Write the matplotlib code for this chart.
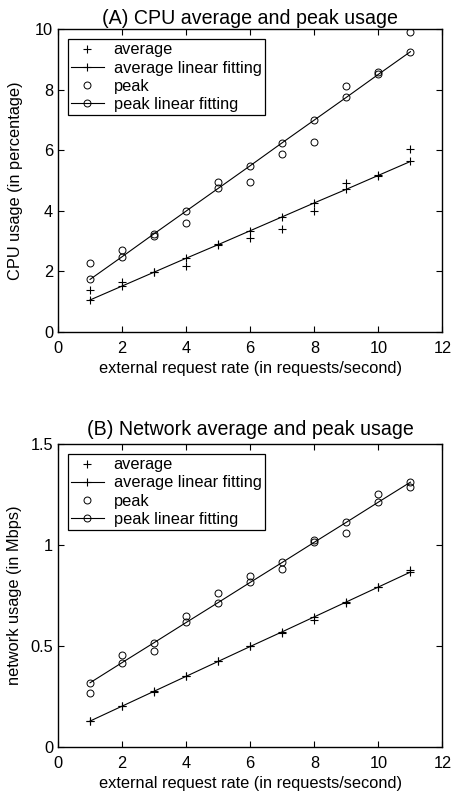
import numpy as np
import matplotlib
matplotlib.use("Agg")
import matplotlib.pyplot as plt

plt.rcParams['font.family'] = ['Liberation Sans', 'DejaVu Sans']
plt.rcParams['font.size'] = 11.8

# request rate (requests/second)
rate = [1, 2, 3, 4, 5, 6, 7, 8, 9, 10, 11]

# CPU usage (percentage)
cpu_avg = [1.38, 1.63, 1.98, 2.17, 2.90, 3.11, 3.40, 4.00, 4.91, 5.16, 6.04]
cpu_avg_fit = [1.05, 1.51, 1.97, 2.43, 2.88, 3.34, 3.80, 4.26, 4.71, 5.17, 5.63]
cpu_peak = [2.26, 2.70, 3.16, 3.61, 4.96, 4.96, 5.87, 6.26, 8.13, 8.58, 9.92]
cpu_peak_fit = [1.73, 2.48, 3.24, 3.99, 4.74, 5.49, 6.25, 7.00, 7.75, 8.51, 9.26]

# network usage (Mbps)
net_avg = [0.125, 0.203, 0.271, 0.349, 0.425, 0.498, 0.563, 0.630, 0.714, 0.792, 0.876]
net_avg_fit = [0.127, 0.201, 0.275, 0.349, 0.423, 0.497, 0.570, 0.644, 0.718, 0.792, 0.866]
net_peak = [0.264, 0.453, 0.474, 0.648, 0.762, 0.848, 0.881, 1.024, 1.061, 1.254, 1.287]
net_peak_fit = [0.317, 0.417, 0.516, 0.616, 0.715, 0.815, 0.914, 1.014, 1.113, 1.213, 1.312]

panels = [
    ("(A) CPU average and peak usage", "CPU usage (in percentage)",
     cpu_avg, cpu_avg_fit, cpu_peak, cpu_peak_fit, (0, 10), [0, 2, 4, 6, 8, 10], ["0", "2", "4", "6", "8", "10"]),
    ("(B) Network average and peak usage", "network usage (in Mbps)",
     net_avg, net_avg_fit, net_peak, net_peak_fit, (0, 1.5), [0, 0.5, 1, 1.5], ["0", "0.5", "1", "1.5"]),
]

fig = plt.figure(figsize=(4.51, 7.98), dpi=100)
ax_boxes = [[0.1286, 0.5843, 0.8525, 0.379], [0.1286, 0.0643, 0.8525, 0.379]]
title_pads = [4, 6.5]
ylabel_x = [-0.090, -0.0946]

for i, (box, (title, ylab, avg, avg_fit, peak, peak_fit, ylim, yt, ytl)) in enumerate(zip(ax_boxes, panels)):
    ax = fig.add_axes(box)
    ax.plot(rate, avg, '+', color='k', ms=5.5, mew=0.8, label='average')
    ax.plot(rate, avg_fit, '-+', color='k', lw=0.8, ms=5.5, mew=0.8, label='average linear fitting')
    ax.plot(rate, peak, 'o', color='k', mfc='none', ms=5, mew=0.7, label='peak')
    ax.plot(rate, peak_fit, '-o', color='k', lw=0.8, mfc='none', ms=5, mew=0.7, label='peak linear fitting')
    ax.set_xlim(0, 12)
    ax.set_ylim(*ylim)
    ax.set_xticks([0, 2, 4, 6, 8, 10, 12])
    ax.set_yticks(yt)
    ax.set_yticklabels(ytl)
    ax.tick_params(direction='in', top=True, right=True, length=4, width=0.8)
    ax.tick_params(axis='x', pad=6.5)
    ax.tick_params(axis='y', pad=3.5)
    for s in ax.spines.values():
        s.set_linewidth(1.0)
    ax.set_title(title, pad=title_pads[i])
    ax.set_xlabel("external request rate (in requests/second)", labelpad=3.6)
    ax.set_ylabel(ylab)
    ax.yaxis.set_label_coords(ylabel_x[i], 0.5)
    leg = ax.legend(loc='upper left', numpoints=1, fancybox=False, framealpha=1,
                    edgecolor='k', handlelength=2.0, borderaxespad=0.6,
                    borderpad=0.2, labelspacing=0.19, handletextpad=0.6)
    leg.get_frame().set_linewidth(0.9)

plt.savefig("out.png", dpi=100)
